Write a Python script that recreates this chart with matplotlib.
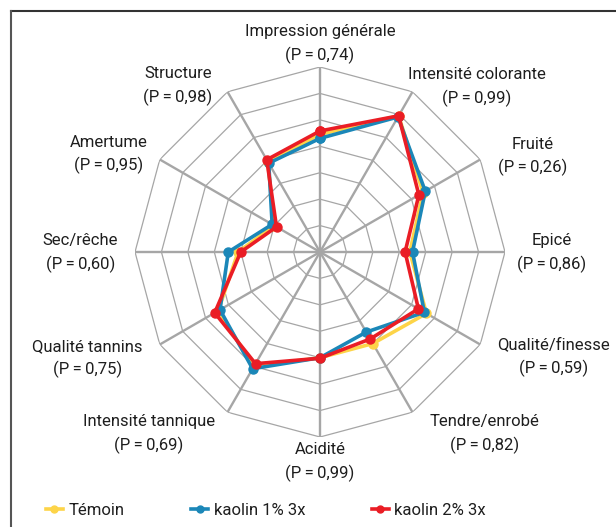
import numpy as np
import matplotlib
matplotlib.use('Agg')
import matplotlib.pyplot as plt
from matplotlib.lines import Line2D

plt.rcParams['font.family'] = ['Roboto', 'DejaVu Sans']

# descripteurs, sens horaire depuis le haut
descripteurs = ['Impression générale', 'Intensité colorante', 'Fruité', 'Epicé',
                'Qualité/finesse', 'Tendre/enrobé', 'Acidité', 'Intensité tannique',
                'Qualité tannins', 'Sec/rêche', 'Amertume', 'Structure']
p_values = ['0,74', '0,99', '0,26', '0,86', '0,59', '0,82',
            '0,99', '0,69', '0,75', '0,60', '0,95', '0,98']

temoin = [4.45, 5.95, 4.5, 3.4, 4.65, 4.0, 4.0, 5.0, 4.45, 3.1, 2.0, 3.95]
kaolin1 = [4.3, 5.9, 4.6, 3.5, 4.56, 3.5, 4.0, 5.1, 4.37, 3.47, 2.09, 3.88]
kaolin2 = [4.58, 5.95, 4.32, 3.22, 4.3, 3.8, 4.02, 4.88, 4.6, 3.0, 1.9, 4.03]

series = [('Témoin', temoin, '#fdd448'),
          ('kaolin 1% 3x', kaolin1, '#1b87b8'),
          ('kaolin 2% 3x', kaolin2, '#ea1d25')]

rmax = 7
grid_col = '#a6a6a6'
txt_col = '#1e1e1e'
fs = 12

# placement des etiquettes (px depuis le sommet exterieur, alignement)
lab_ha = ['center', 'left', 'left', 'left', 'left', 'left',
          'center', 'right', 'right', 'right', 'right', 'right']
lab_dx = [0, -4.5, 18, 12, 17, 17, 0, -12.5, -17, -17, -12, -15]
lab_dy = [-23, -5, -3, 1, 12.5, 22, 25, 22, 14, 1, -5, -6]

fig = plt.figure(figsize=(6.16, 5.27), dpi=100)
ax = fig.add_axes([135 / 616, 90 / 527, 370 / 616, 370 / 527], projection='polar')
ax.set_theta_offset(np.pi / 2)
ax.set_theta_direction(-1)
ax.set_ylim(0, rmax)
ax.grid(False)
ax.set_xticks([])
ax.set_yticks([])
ax.spines['polar'].set_visible(False)
ax.patch.set_visible(False)

n = len(descripteurs)
angles = np.linspace(0, 2 * np.pi, n, endpoint=False)
closed = np.append(angles, angles[0])

# toile
for r in range(1, rmax + 1):
    ax.plot(closed, [r] * (n + 1), color=grid_col, lw=0.9, zorder=1)
for a in angles:
    ax.plot([a, a], [0, rmax], color=grid_col, lw=1.7, zorder=1)

for name, vals, col in series:
    v = np.append(vals, vals[0])
    ax.plot(closed, v, color=col, lw=2.6, marker='o', ms=6.5, label=name, zorder=3,
            solid_joinstyle='round')

# etiquettes
for i, (a, d, p) in enumerate(zip(angles, descripteurs, p_values)):
    ax.annotate(d + '\n(P\u2009=\u2009' + p + ')', xy=(a, rmax),
                xytext=(lab_dx[i] * 0.72, -lab_dy[i] * 0.72), textcoords='offset points',
                ha=lab_ha[i], va='center', multialignment='center',
                fontsize=fs, color=txt_col, linespacing=1.55)

handles = [Line2D([], [], color=c, lw=2.6, marker='o', ms=5) for _, _, c in series]
fig.legend(handles, [s[0] for s in series], loc='center', bbox_to_anchor=(0.432, 0.032),
           ncol=3, frameon=False, fontsize=fs, handlelength=1.0, handletextpad=0.35,
           columnspacing=4.0, labelcolor=txt_col)

# cadre
fig.add_artist(Line2D([11 / 616, 1], [1 - 11 / 527] * 2, color='#333333', lw=1.5))
fig.add_artist(Line2D([11 / 616] * 2, [0, 1 - 11 / 527], color='#555555', lw=1.5))

fig.savefig('out.png', dpi=100)
